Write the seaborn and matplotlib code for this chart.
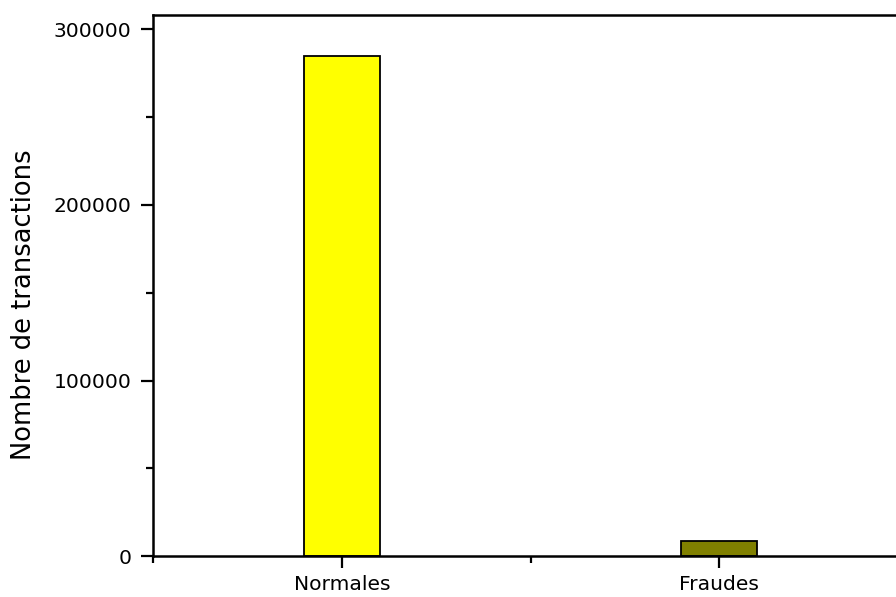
import matplotlib
matplotlib.use("Agg")
import matplotlib.pyplot as plt
from matplotlib.ticker import MultipleLocator, FixedLocator
import seaborn as sns
import pandas as pd

categories = ["Normales", "Fraudes"]
counts = [284800, 8700]
bar_colors = ["#FFFF00", "#808000"]
y_label = "Nombre de transactions"
y_ticks = [0, 100000, 200000, 300000]

sns.set_theme(style="ticks")
plt.rcParams["font.family"] = ["DejaVu Sans"]

df = pd.DataFrame({"cat": categories, "n": counts})

fig = plt.figure(figsize=(8.96, 5.97), dpi=100)
ax = fig.add_axes([0.1711, 0.0682, 0.842, 0.9062])

sns.barplot(data=df, x="cat", y="n", hue="cat", palette=bar_colors,
            width=0.2, edgecolor="black", linewidth=1.3, saturation=1,
            legend=False, ax=ax)

ax.set_xlim(-0.5, 1.5)
ax.set_ylim(0, 308000)
ax.set_yticks(y_ticks)
ax.set_yticklabels([str(v) for v in y_ticks])
ax.yaxis.set_minor_locator(MultipleLocator(50000))
ax.xaxis.set_minor_locator(FixedLocator([-0.5, 0.5, 1.5]))

ax.set_xlabel("")
ax.set_ylabel(y_label, fontsize=18.5, va="center", color="black")
ax.yaxis.set_label_coords(-0.1714, 0.4645)

for s in ax.spines.values():
    s.set_visible(True)
    s.set_linewidth(1.8)
    s.set_color("black")

ax.tick_params(axis="both", which="major", direction="out", length=8.3,
               width=1.6, labelsize=14.6, color="black", labelcolor="black")
ax.tick_params(axis="both", which="minor", direction="out", length=4.8,
               width=1.6, color="black")
ax.tick_params(axis="y", which="major", pad=7.5)
ax.tick_params(axis="x", which="major", pad=5)
ax.tick_params(top=False, right=False, which="both")
ax.grid(False)

fig.savefig("out.png", dpi=100)
